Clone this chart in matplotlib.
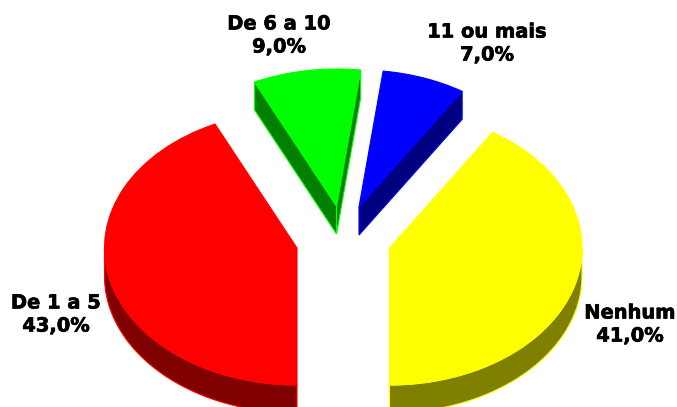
import numpy as np
import matplotlib
matplotlib.use("Agg")
import matplotlib.pyplot as plt
import matplotlib.patheffects as pe
from matplotlib.patches import Polygon
from matplotlib.transforms import Affine2D

categories = ["Nenhum", "11 ou mais", "De 6 a 10", "De 1 a 5"]
values = [41.0, 7.0, 9.0, 43.0]
value_labels = ["41,0%", "7,0%", "9,0%", "43,0%"]
top_colors = ["#ffff00", "#0000ff", "#00ff00", "#ff0000"]
side_colors = ["#808000", "#000080", "#008000", "#800000"]

# per-slice layout, in pixels
centers = [(389.5, 248), (359, 207), (336.5, 206), (297, 248)]
label_pos = [(630, 324), (487, 43), (279, 35), (56, 314)]
RX, RY, DEPTH = 192.5, 137, 28

fig = plt.figure(figsize=(6.77, 4.07), dpi=100)
ax = fig.add_axes([0, 0, 1, 1])
wedges, _ = ax.pie(values, startangle=270, counterclock=True, radius=1,
                   colors=top_colors, wedgeprops=dict(linewidth=0.8))
ax.set_aspect("auto")
ax.set_xlim(0, 677)
ax.set_ylim(407, 0)
ax.axis("off")


def project(c, a):
    a = np.radians(a)
    return np.column_stack([c[0] + RX * np.cos(a), c[1] - RY * np.sin(a)])


def wall(pts, face, edge, z):
    low = pts + [0, DEPTH]
    ax.add_patch(Polygon(np.vstack([pts, low[::-1]]), closed=True, facecolor=face,
                         edgecolor=edge, linewidth=0.8, zorder=z, clip_on=True))


for w, c, face, edge in zip(wedges, centers, side_colors, top_colors):
    w.set_transform(Affine2D().scale(RX, -RY).translate(*c) + ax.transData)
    w.set_edgecolor(edge)
    w.set_zorder(3)
    span = w.theta2 - w.theta1
    t1 = w.theta1 % 360
    t2 = t1 + span
    # outer rim: the part of the arc on the near (lower) half
    a, b = max(t1, 180), min(t2, 360)
    if b > a:
        wall(project(c, np.linspace(a, b, 80)), face, edge, 2)
    # cut faces turned towards the viewer
    apex = np.array([c])
    for ang, visible in [(t1, 0 < (t1 % 360) < 90), (t2, 90 < (t2 % 360) < 180)]:
        if visible:
            wall(np.vstack([project(c, [ang]), apex]), face, edge, 2)

for cat, val, (x, y) in zip(categories, value_labels, label_pos):
    ax.text(x, y + 0.5, f"{cat}\n{val}", ha="center", va="center", fontsize=14,
            fontweight="bold", family="DejaVu Sans", color="black", linespacing=1.27,
            path_effects=[pe.withStroke(linewidth=0.5, foreground="black")])

fig.savefig("out.png", dpi=100, facecolor="white")
